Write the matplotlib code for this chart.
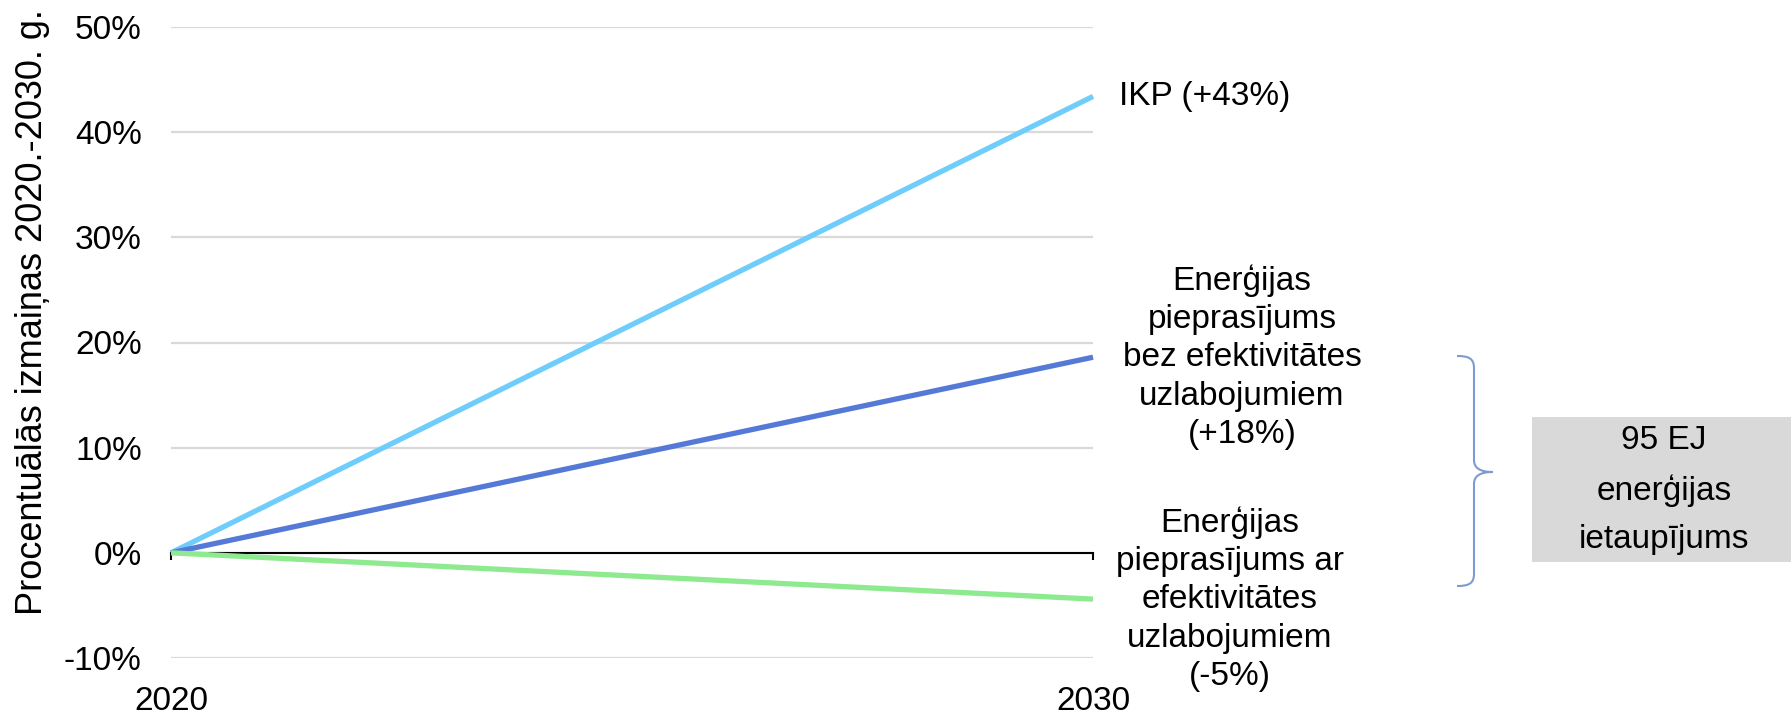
import numpy as np
import matplotlib
matplotlib.use("Agg")
import matplotlib.pyplot as plt
from matplotlib.path import Path
from matplotlib.patches import PathPatch, Rectangle
from matplotlib.ticker import FuncFormatter

plt.rcParams['font.family'] = ['Liberation Sans', 'DejaVu Sans']

# Datos del grafico
years = [2020, 2030]
gdp = [0, 43.4]                 # IKP
demand_no_eff = [0, 18.6]       # pieprasijums bez efektivitates uzlabojumiem
demand_eff = [0, -4.4]          # pieprasijums ar efektivitates uzlabojumiem
y_ticks = [-10, 0, 10, 20, 30, 40, 50]

label_gdp = "IKP (+43%)"
label_no_eff = "Enerģijas\npieprasījums\nbez efektivitātes\nuzlabojumiem\n(+18%)"
label_eff = "Enerģijas\npieprasījums ar\nefektivitātes\nuzlabojumiem\n(-5%)"
y_label = "Procentuālās izmaiņas 2020.-2030. g."
box_text = "95 EJ\nenerģijas\nietaupījums"

W, H = 1791, 715
fig = plt.figure(figsize=(W / 100, H / 100), dpi=100)
ax = fig.add_axes([171 / W, 57 / H, 922 / W, 631 / H])

def px(x, y):  # pixeles (origen arriba-izquierda) -> fraccion de figura
    return (x / W, 1 - y / H)

fs = 24
ax.plot(years, gdp, color='#6ECDFB', lw=3.8, solid_capstyle='butt', clip_on=False, zorder=4)
ax.plot(years, demand_no_eff, color='#5479D6', lw=3.8, solid_capstyle='butt', clip_on=False, zorder=4)
ax.plot(years, demand_eff, color='#8DEA8F', lw=3.8, solid_capstyle='butt', clip_on=False, zorder=4)

ax.set_xlim(years[0], years[-1])
ax.set_ylim(y_ticks[0], y_ticks[-1])
ax.set_yticks(y_ticks)
ax.yaxis.set_major_formatter(FuncFormatter(lambda v, p: f"{v:.0f}%"))
ax.grid(axis='y', color='#D9D9D9', lw=1.6)
ax.set_axisbelow(True)
ax.tick_params(axis='y', length=0, pad=21, labelsize=fs)

# Eje X en 0% con marcas hacia abajo
for s in ['top', 'right', 'left']:
    ax.spines[s].set_visible(False)
ax.spines['bottom'].set_position(('data', 0))
ax.spines['bottom'].set_color('black')
ax.spines['bottom'].set_linewidth(1.5)
ax.spines['bottom'].set_zorder(3)
ax.set_xticks(years)
ax.tick_params(axis='x', direction='out', length=5, width=1.5, color='black', labelbottom=False)

sec = ax.secondary_xaxis(0)
sec.set_xticks(years)
sec.set_xticklabels([str(y) for y in years])
sec.spines['bottom'].set_visible(False)
sec.tick_params(axis='x', length=0, pad=20, labelsize=fs)

# Etiquetas de las series
ax.annotate(label_gdp, (years[-1], gdp[-1]), xytext=(26, 0), textcoords='offset pixels',
            ha='left', va='center', fontsize=fs, annotation_clip=False)
ax.annotate(label_no_eff, (years[-1], demand_no_eff[-1]), xytext=(149, 0), textcoords='offset pixels',
            ha='center', va='center', multialignment='center', fontsize=fs, linespacing=1.3,
            annotation_clip=False)
ax.annotate(label_eff, (years[-1], demand_eff[-1]), xytext=(137, 0), textcoords='offset pixels',
            ha='center', va='center', multialignment='center', fontsize=fs, linespacing=1.3,
            annotation_clip=False)

fig.text(*px(33, 312), y_label, rotation=90, ha='center', va='center', fontsize=26)

# Llave
pts = [(1457, 356), (1468, 356), (1474, 358), (1474, 368),
       (1474, 460),
       (1474, 468), (1480, 472), (1493, 472),
       (1480, 472), (1474, 476), (1474, 484),
       (1474, 574),
       (1474, 584), (1468, 586), (1457, 586)]
codes = [Path.MOVETO, Path.CURVE4, Path.CURVE4, Path.CURVE4,
         Path.LINETO,
         Path.CURVE4, Path.CURVE4, Path.CURVE4,
         Path.CURVE4, Path.CURVE4, Path.CURVE4,
         Path.LINETO,
         Path.CURVE4, Path.CURVE4, Path.CURVE4]
brace = Path([px(x, y) for x, y in pts], codes)
fig.patches.append(PathPatch(brace, transform=fig.transFigure, fill=False,
                             edgecolor='#7D9BD0', lw=1.5))

# Caja gris
x0, y0 = px(1532, 562)
fig.patches.append(Rectangle((x0, y0), (1791 - 1532) / W, (562 - 417) / H,
                             transform=fig.transFigure, facecolor='#D9D9D9', edgecolor='none'))
fig.text(*px(1664, 490), box_text, ha='center', va='center', multialignment='center',
         fontsize=fs, linespacing=1.7)

fig.savefig("out.png", dpi=100)
